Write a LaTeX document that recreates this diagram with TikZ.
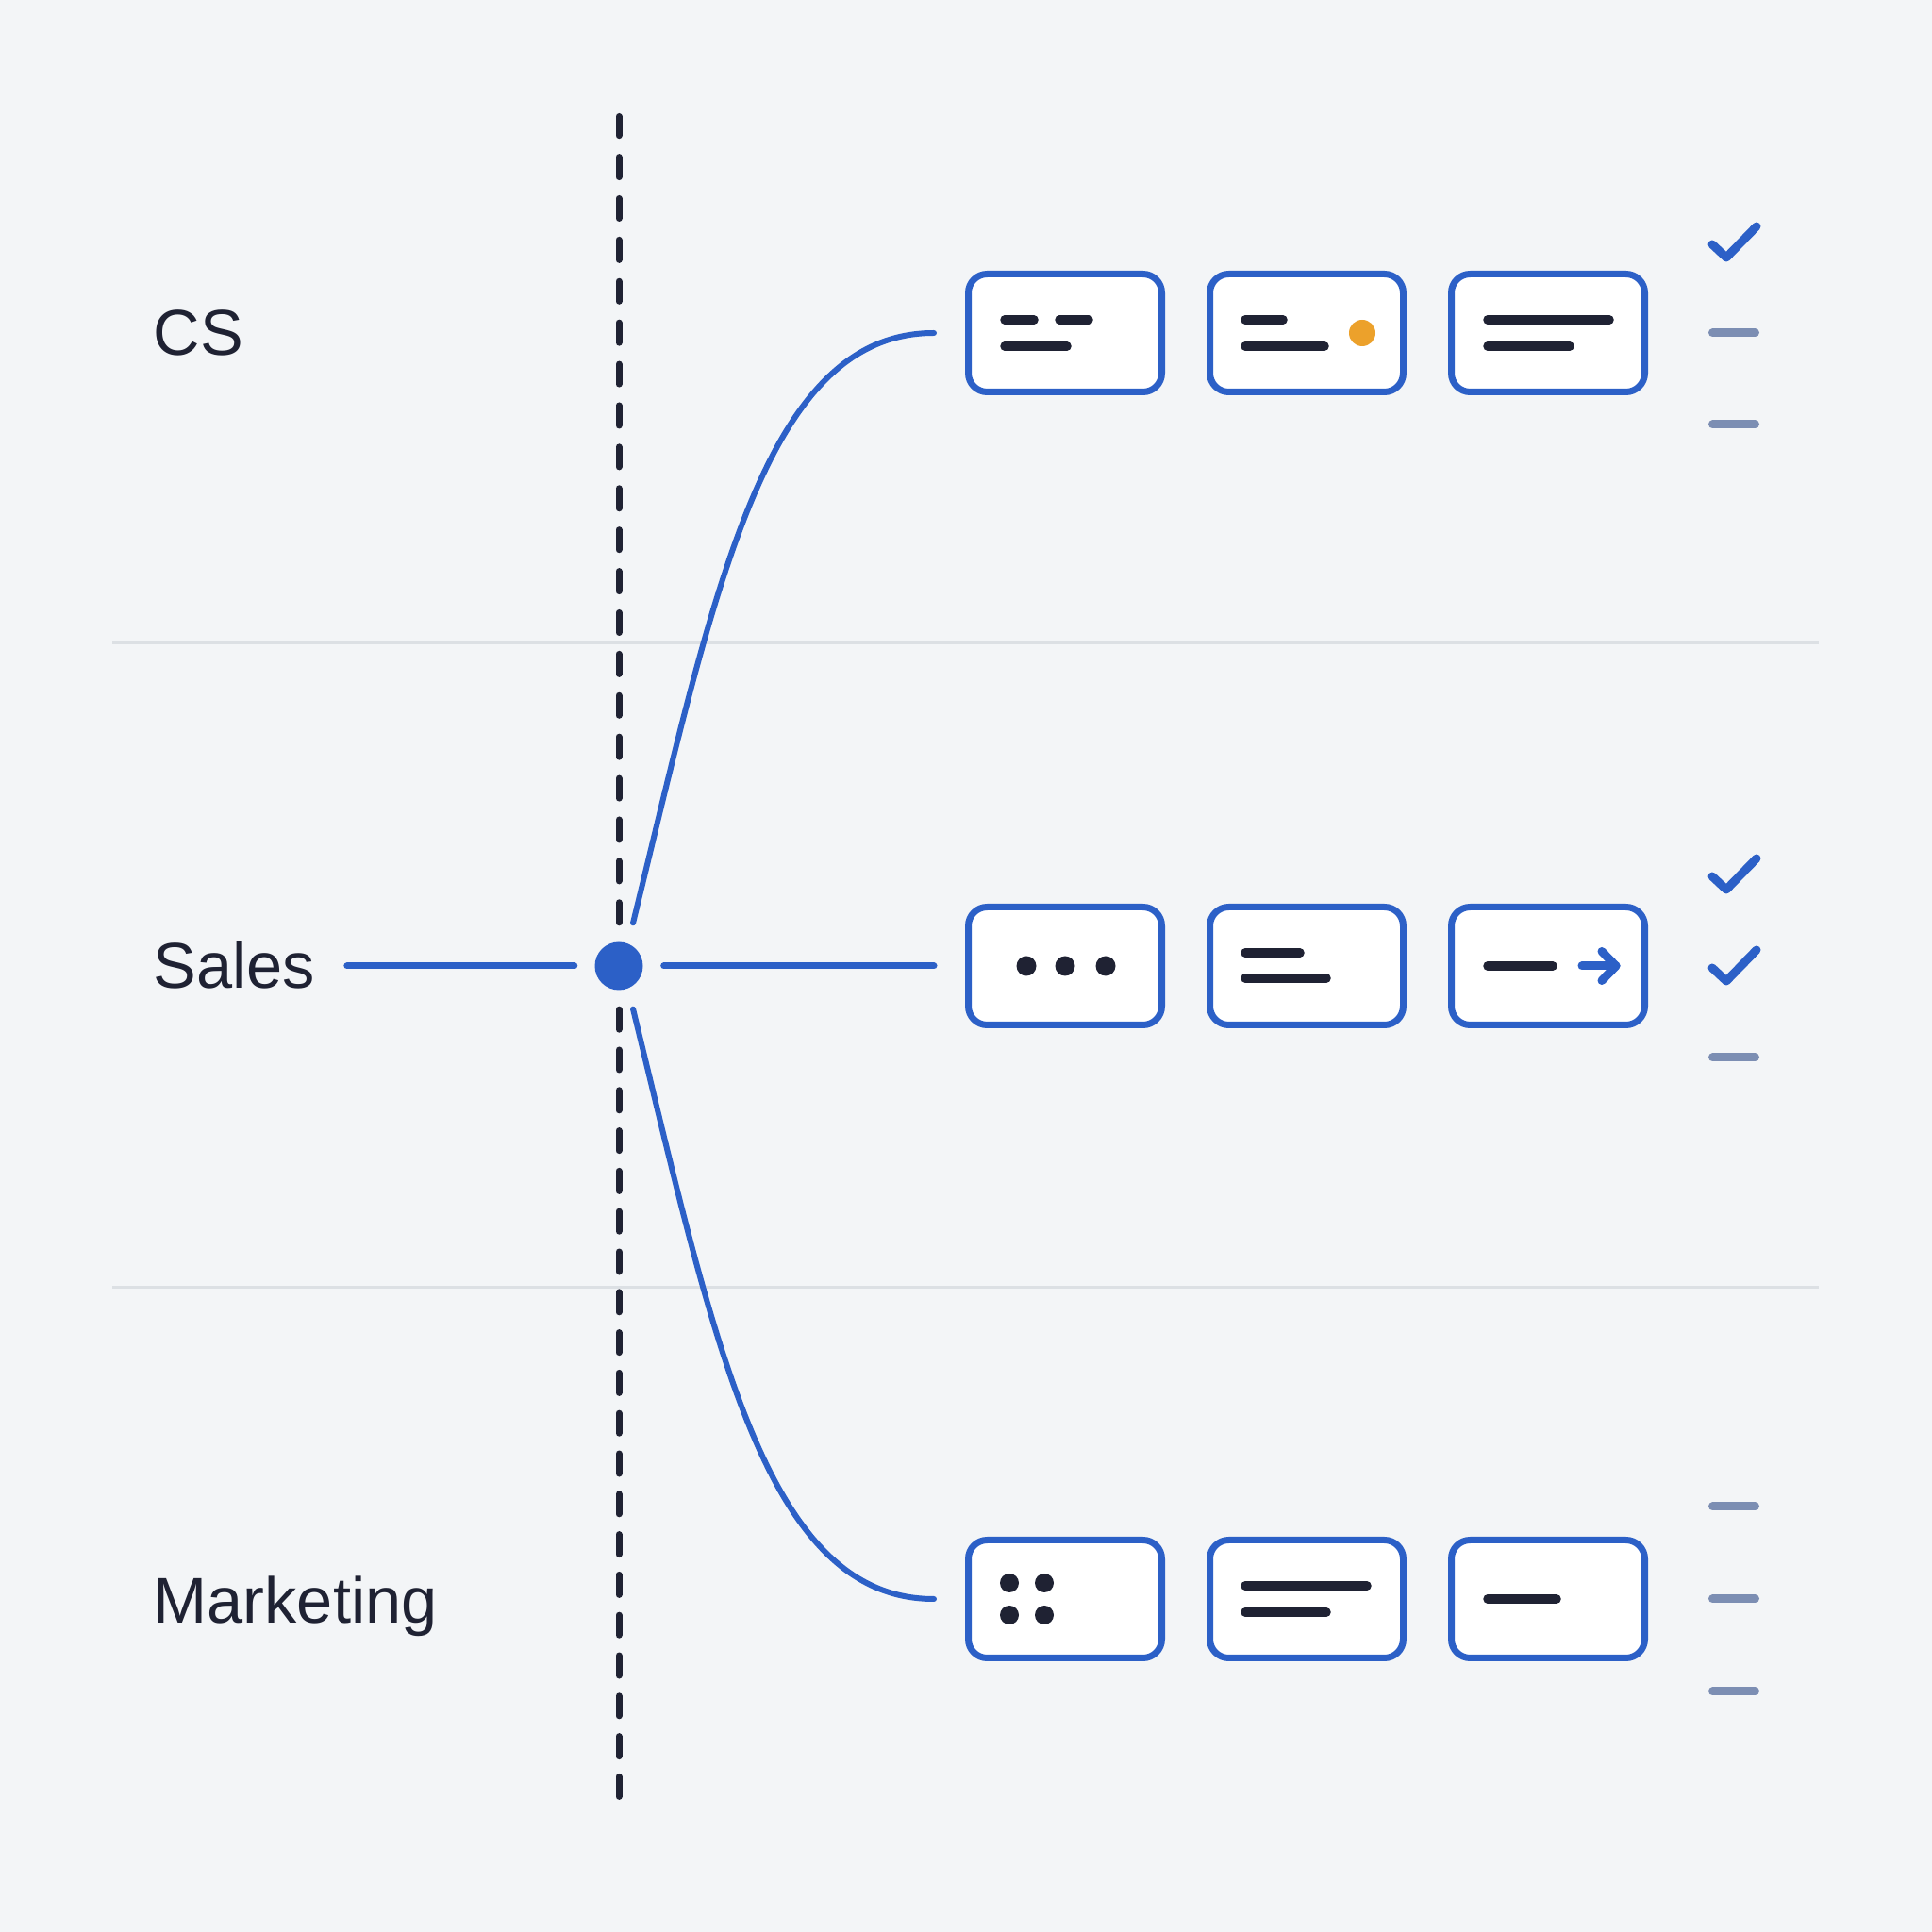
\documentclass[tikz,border=0pt]{standalone}
\usepackage{fontspec}
\setmainfont{Liberation Sans}
\usetikzlibrary{positioning}
\definecolor{flowblue}{HTML}{2C60C7}
\definecolor{inkdark}{HTML}{1F2233}
\definecolor{dotorange}{HTML}{ECA12B}
\definecolor{mutedbar}{HTML}{7C8EB3}
\definecolor{rulegray}{HTML}{DCE0E4}
\definecolor{pagebg}{HTML}{F3F5F7}
\newcommand{\lanefont}{\fontsize{19.5}{23}\selectfont}
\newcommand{\tickmark}[1]{\draw[tickline] (#1) ++(-0.23,-0.02) -- ++(0.15,-0.14) -- ++(0.32,0.33);}
\newcommand{\nilmark}[1]{\draw[nilline] (#1) ++(-0.225,0) -- ++(0.45,0);}
\tikzset{
  lane/.style={font=\lanefont, text=inkdark, inner sep=0pt, anchor=base west},
  card/.style={
    draw=flowblue,
    fill=white,
    line width=0.07cm,
    rounded corners=0.2cm,
    minimum width=2.05cm,
    minimum height=1.25cm
  },
  hubdot/.style={circle, fill=flowblue, minimum size=0.51cm, inner sep=0pt},
  rail/.style={draw=inkdark, line width=0.07cm, line cap=round, dash pattern=on 0.21cm off 0.229cm, shorten <=0.2cm},
  link/.style={draw=flowblue, line width=0.07cm, line cap=round},
  branch/.style={draw=flowblue, line width=0.06cm, line cap=round},
  ink/.style={draw=inkdark, line width=0.095cm, line cap=round},
  tickline/.style={draw=flowblue, line width=0.09cm, line cap=round, line join=round},
  nilline/.style={draw=mutedbar, line width=0.09cm, line cap=round},
  sep/.style={draw=rulegray, line width=0.03cm}
}

\begin{document}
\begin{tikzpicture}

  \fill[pagebg] (0,0) rectangle (20.48,20.48);
  \useasboundingbox (0,0) rectangle (20.48,20.48);

  % lane separators
  \draw[sep] (1.19,13.66) -- (19.28,13.66);
  \draw[sep] (1.19,6.83) -- (19.28,6.83);

  \node[lane] (cs) at (1.62,16.71) {CS};
  \node[lane] (sales) at (1.62,10.00) {Sales};
  \node[lane] (mkt) at (1.62,3.28) {Marketing};

  \node[hubdot] (hub) at (6.56,10.24) {};
  \coordinate (railtop) at (6.56,19.245);
  \coordinate (railbot) at (6.56,1.435);
  \draw[rail] (hub) -- (railtop);
  \draw[rail, dash pattern=on 0.21cm off 0.218cm] (hub) -- (railbot);

  % cards
  \node[card] (c1) at (11.29,16.95) {};
  \node[card, right=0.44cm of c1] (c2) {};
  \node[card, right=0.44cm of c2] (c3) {};

  \node[card] (s1) at (11.29,10.24) {};
  \node[card, right=0.44cm of s1] (s2) {};
  \node[card, right=0.44cm of s2] (s3) {};

  \node[card] (m1) at (11.29,3.53) {};
  \node[card, right=0.44cm of m1] (m2) {};
  \node[card, right=0.44cm of m2] (m3) {};

  % links
  \draw[link, shorten <=0.33cm, shorten >=0.21cm] (hub -| sales.east) -- (hub);
  \draw[link, shorten <=0.215cm, shorten >=0.33cm] (hub) -- (s1);
  \draw[branch, shorten <=0.22cm, shorten >=0.33cm] (hub.68) .. controls (7.57,14.21) and (8.10,16.95) .. (c1.west);
  \draw[branch, shorten <=0.22cm, shorten >=0.33cm] (hub.-68) .. controls (7.57,6.27) and (8.10,3.53) .. (m1.west);

  % card glyphs, CS
  \draw[ink] ([xshift=0.42cm, yshift=0.14cm]c1.west) -- ++(0.31,0);
  \draw[ink] ([xshift=1.00cm, yshift=0.14cm]c1.west) -- ++(0.31,0);
  \draw[ink] ([xshift=0.42cm, yshift=-0.14cm]c1.west) -- ++(0.66,0);
  \draw[ink] ([xshift=0.41cm, yshift=0.14cm]c2.west) -- ++(0.40,0);
  \draw[ink] ([xshift=0.41cm, yshift=-0.14cm]c2.west) -- ++(0.84,0);
  \fill[dotorange] ([xshift=1.65cm]c2.west) circle (0.14cm);
  \draw[ink] ([xshift=0.42cm, yshift=0.14cm]c3.west) -- ++(1.29,0);
  \draw[ink] ([xshift=0.42cm, yshift=-0.14cm]c3.west) -- ++(0.87,0);

  % card glyphs, Sales
  \fill[inkdark] ([xshift=0.65cm]s1.west) circle (0.105cm);
  \fill[inkdark] ([xshift=1.06cm]s1.west) circle (0.105cm);
  \fill[inkdark] ([xshift=1.49cm]s1.west) circle (0.105cm);
  \draw[ink] ([xshift=0.41cm, yshift=0.14cm]s2.west) -- ++(0.58,0);
  \draw[ink] ([xshift=0.41cm, yshift=-0.13cm]s2.west) -- ++(0.86,0);
  \draw[ink] ([xshift=0.42cm]s3.west) -- ++(0.69,0);
  \draw[tickline] ([xshift=1.42cm]s3.west) -- ++(0.36,0);
  \draw[tickline] ([xshift=1.63cm, yshift=0.155cm]s3.west) -- ++(0.15,-0.155) -- ++(-0.15,-0.155);

  % card glyphs, Marketing
  \fill[inkdark] ([xshift=0.47cm, yshift=0.17cm]m1.west) circle (0.1cm);
  \fill[inkdark] ([xshift=0.84cm, yshift=0.17cm]m1.west) circle (0.1cm);
  \fill[inkdark] ([xshift=0.47cm, yshift=-0.17cm]m1.west) circle (0.1cm);
  \fill[inkdark] ([xshift=0.84cm, yshift=-0.17cm]m1.west) circle (0.1cm);
  \draw[ink] ([xshift=0.41cm, yshift=0.14cm]m2.west) -- ++(1.29,0);
  \draw[ink] ([xshift=0.41cm, yshift=-0.14cm]m2.west) -- ++(0.86,0);
  \draw[ink] ([xshift=0.42cm]m3.west) -- ++(0.73,0);

  % status marks
  \coordinate (k1) at (18.38,17.91);
  \coordinate (k2) at (18.38,16.95);
  \coordinate (k3) at (18.38,15.98);
  \coordinate (k4) at (18.38,11.21);
  \coordinate (k5) at (18.38,10.24);
  \coordinate (k6) at (18.38,9.27);
  \coordinate (k7) at (18.38,4.51);
  \coordinate (k8) at (18.38,3.53);
  \coordinate (k9) at (18.38,2.55);
  \tickmark{k1}
  \nilmark{k2}
  \nilmark{k3}
  \tickmark{k4}
  \tickmark{k5}
  \nilmark{k6}
  \nilmark{k7}
  \nilmark{k8}
  \nilmark{k9}

\end{tikzpicture}
\end{document}
